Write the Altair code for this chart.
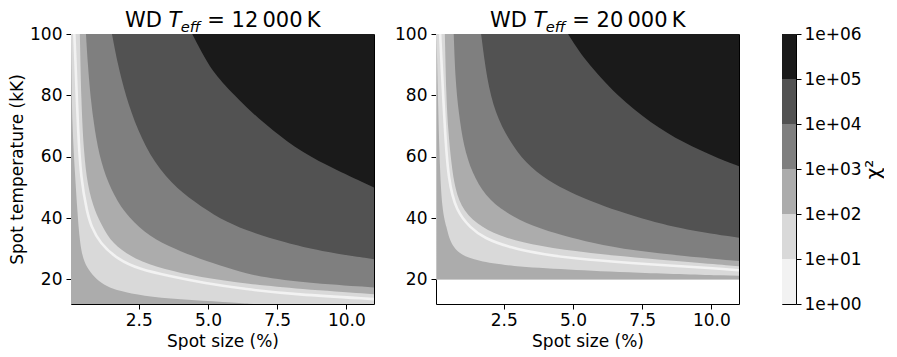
import altair as alt
import pandas as pd

# ---------------- axes / levels ----------------
X_MIN, X_MAX = 0.05, 11.0
Y_BOTTOM, Y_TOP = 12.0, 100.0
x_tick_values = [2.5, 5.0, 7.5, 10.0]
y_tick_values = [20, 40, 60, 80, 100]
colorbar_exponents = [0, 1, 2, 3, 4, 5, 6]          # chi^2 = 1e+00 ... 1e+06
band_colors = ["#f2f2f2", "#d9d9d9", "#acacac", "#7f7f7f", "#525252", "#1a1a1a"]

panel_teff = ["12\u2009000", "20\u2009000"]
grid_floor = [12.0, 20.0]   # lowest spot temperature of each model grid (kK)

# ---------------- panel 1 : WD Teff = 12 000 K ----------------
# contour boundaries: spot size (%) -> spot temperature (kK)
p1_lvl5_x = [4.43, 4.97, 5.40, 6.59, 7.31, 8.39, 9.61, 11.0]
p1_lvl5_y = [100, 90.6, 85.1, 74.3, 68.8, 61.4, 55.8, 50.0]
p1_lvl4_x = [1.53, 1.73, 2.03, 2.45, 3.05, 3.89, 4.73, 5.69, 6.60, 7.80, 9.0, 11.0]
p1_lvl4_y = [100, 90.5, 79.6, 68.8, 58.0, 49.3, 43.9, 38.5, 35.3, 32.0, 29.3, 26.6]
p1_lvl3_x = [0.59, 0.655, 0.75, 0.90, 1.13, 1.49, 1.97, 2.69, 3.53, 4.73, 5.69, 6.60, 8.40, 11.0]
p1_lvl3_y = [100, 90.5, 79.6, 68.8, 58.0, 49.3, 41.8, 35.3, 30.9, 26.6, 23.9, 21.2, 19.0, 17.4]
p1_lvl2_up_x = [0.37, 0.42, 0.51, 0.65, 0.91, 1.19, 1.52, 2.35, 3.42, 4.68, 6.48, 8.28, 11.0]
p1_lvl2_up_y = [100, 77.9, 61.7, 50.3, 42.2, 37.3, 31.9, 26.5, 23.3, 20.8, 18.5, 16.9, 15.2]
p1_valley_x = [0.17, 0.20, 0.30, 0.41, 0.63, 0.78, 1.09, 1.74, 2.53, 3.60, 4.80, 6.36, 8.16, 11.0]
p1_valley_y = [100, 94.0, 68.8, 52.6, 41.9, 37.3, 31.9, 26.5, 23.3, 21.1, 18.9, 16.8, 15.1, 13.6]
p1_lvl2_lo_x = [0.05, 0.06, 0.10, 0.19, 0.28, 0.37, 0.49, 0.67, 0.97, 1.33, 1.81, 2.64, 3.96, 5.64, 6.66]
p1_lvl2_lo_y = [100, 90.6, 68.8, 55.2, 42.2, 31.9, 26.5, 23.3, 20.0, 17.8, 16.2, 14.6, 13.5, 12.6, 12.0]

# ---------------- panel 2 : WD Teff = 20 000 K ----------------
p2_lvl5_x = [4.82, 5.41, 6.61, 7.81, 9.0, 10.2, 11.0]
p2_lvl5_y = [100, 91.6, 79.6, 71.0, 64.5, 59.6, 56.9]
p2_lvl4_x = [1.68, 1.89, 2.19, 2.67, 3.27, 4.11, 4.94, 5.66, 6.61, 7.81, 9.0, 11.0]
p2_lvl4_y = [100, 85.1, 74.2, 65.6, 58.0, 52.0, 48.3, 45.5, 42.3, 39.0, 36.3, 33.6]
p2_lvl3_x = [0.69, 0.75, 0.87, 1.05, 1.35, 1.83, 2.55, 3.51, 4.70, 5.66, 7.21, 9.0, 11.0]
p2_lvl3_y = [100, 85.1, 74.2, 63.4, 54.8, 47.2, 41.8, 37.4, 34.2, 32.0, 29.3, 27.7, 26.0]
p2_lvl2_up_x = [0.37, 0.42, 0.49, 0.60, 0.74, 1.03, 1.71, 2.54, 3.79, 5.59, 7.74, 9.54, 11.0]
p2_lvl2_up_y = [100, 79.6, 68.8, 58.0, 49.3, 42.2, 36.8, 33.5, 30.8, 28.5, 26.8, 25.4, 24.3]
p2_valley_x = [0.20, 0.25, 0.37, 0.49, 0.78, 1.30, 1.78, 2.74, 3.94, 5.37, 7.77, 10.16, 11.0]
p2_valley_y = [100, 90.5, 68.8, 52.6, 42.2, 36.8, 33.5, 30.3, 28.1, 26.5, 24.9, 23.6, 23.0]
p2_lvl2_lo_x = [0.07, 0.12, 0.18, 0.27, 0.44, 0.52, 0.70, 0.94, 1.54, 2.74, 4.77, 7.17, 11.0]
p2_lvl2_lo_y = [100, 79.6, 58.1, 42.2, 36.8, 33.5, 30.3, 28.1, 26.0, 24.3, 23.3, 22.2, 21.2]

FONT = "DejaVu Sans"
LABEL_SIZE = 17
TITLE_SIZE = 21
PANEL_W, PANEL_H = 303, 270
CURVE = "basis"

xscale = alt.Scale(domain=[X_MIN, X_MAX], nice=False, zero=False)
yscale = alt.Scale(domain=[Y_BOTTOM, Y_TOP], nice=False, zero=False)


def axes(show_ytitle):
    xaxis = alt.Axis(values=x_tick_values, format=".1f", title="Spot size (%)", grid=False,
                     domain=False, tickSize=5, labelPadding=3, titlePadding=5)
    yaxis = alt.Axis(values=y_tick_values, format="d",
                     title="Spot temperature (kK)" if show_ytitle else "",
                     grid=False, domain=False, tickSize=5, labelPadding=4, titlePadding=3)
    return xaxis, yaxis


def panel(idx, lvl2_lo, valley, lvl2_up, lvl3, lvl4, lvl5, show_ytitle):
    xaxis, yaxis = axes(show_ytitle)
    floor = grid_floor[idx]

    def enc_x():
        return alt.X("x:Q", scale=xscale, axis=xaxis)

    def enc_y():
        return alt.Y("y:Q", scale=yscale, axis=yaxis)

    base_df = pd.DataFrame({"x": [X_MIN], "x2": [X_MAX], "y": [floor], "y2": [Y_TOP]})
    layers = [
        alt.Chart(base_df).mark_rect(color=band_colors[1]).encode(
            x=enc_x(), x2="x2:Q", y=enc_y(), y2="y2:Q")
    ]

    xs, ys = lvl2_lo
    df = pd.DataFrame({"x": xs, "y": [floor] * len(xs), "y2": ys})
    layers.append(alt.Chart(df).mark_area(color=band_colors[2], clip=True, orient="vertical",
                                          interpolate=CURVE).encode(
        x=enc_x(), y=enc_y(), y2="y2:Q"))

    xs, ys = valley
    df = pd.DataFrame({"x": xs, "y": ys})
    layers.append(alt.Chart(df).mark_line(color=band_colors[0], strokeWidth=2.6, clip=True,
                                          interpolate=CURVE).encode(
        x=enc_x(), y=enc_y()))

    for (xs, ys), col in zip([lvl2_up, lvl3, lvl4, lvl5], band_colors[2:]):
        df = pd.DataFrame({"x": xs, "y": ys, "y2": [Y_TOP] * len(xs)})
        layers.append(alt.Chart(df).mark_area(color=col, clip=True, orient="vertical",
                                              interpolate=CURVE).encode(
            x=enc_x(), y=enc_y(), y2="y2:Q"))

    # title: WD T_eff = ... K
    start = PANEL_W / 2 - 97.5
    one = pd.DataFrame({"a": [0]})
    pieces = [
        ("WD", start, -7, TITLE_SIZE, "normal"),
        ("T", start + 43.6, -7, TITLE_SIZE, "italic"),
        ("eff", start + 55.8, -2.5, TITLE_SIZE * 0.7, "italic"),
        ("= " + panel_teff[idx] + "\u2009K", start + 82.3, -7, TITLE_SIZE, "normal"),
    ]
    for txt, px, py, fs, style in pieces:
        layers.append(alt.Chart(one).mark_text(text=txt, align="left", baseline="alphabetic",
                                               font=FONT, fontSize=fs, fontStyle=style,
                                               color="black").encode(
            x=alt.value(px), y=alt.value(py)))

    return alt.layer(*layers).properties(width=PANEL_W, height=PANEL_H)


p1 = panel(0, (p1_lvl2_lo_x, p1_lvl2_lo_y), (p1_valley_x, p1_valley_y),
           (p1_lvl2_up_x, p1_lvl2_up_y), (p1_lvl3_x, p1_lvl3_y),
           (p1_lvl4_x, p1_lvl4_y), (p1_lvl5_x, p1_lvl5_y), True)
p2 = panel(1, (p2_lvl2_lo_x, p2_lvl2_lo_y), (p2_valley_x, p2_valley_y),
           (p2_lvl2_up_x, p2_lvl2_up_y), (p2_lvl3_x, p2_lvl3_y),
           (p2_lvl4_x, p2_lvl4_y), (p2_lvl5_x, p2_lvl5_y), False)

# ---------------- colorbar ----------------
cb_df = pd.DataFrame({
    "lo": colorbar_exponents[:-1],
    "hi": colorbar_exponents[1:],
    "band": [str(i) for i in range(len(band_colors))],
})
colorbar = alt.Chart(cb_df).mark_rect().encode(
    y=alt.Y("lo:Q", scale=alt.Scale(domain=[colorbar_exponents[0], colorbar_exponents[-1]], nice=False),
            axis=alt.Axis(orient="right", values=colorbar_exponents, labelExpr="'1e+0' + datum.value",
                          title="\u03c7\u00b2", titleAngle=270, titlePadding=22, grid=False,
                          domain=False, tickSize=5, labelPadding=3, titleFontSize=20)),
    y2="hi:Q",
    color=alt.Color("band:N", scale=alt.Scale(domain=list(cb_df["band"]), range=band_colors), legend=None),
).properties(width=14, height=PANEL_H)

chart = alt.hconcat(
    alt.hconcat(p1, p2, spacing=19),
    colorbar,
    spacing=41,
).properties(padding={"left": 0, "top": 1, "right": 0, "bottom": 0}).configure(font=FONT).configure_view(
    stroke="black", strokeWidth=1
).configure_axis(
    labelFont=FONT, titleFont=FONT, labelFontSize=LABEL_SIZE, titleFontSize=LABEL_SIZE,
    labelColor="black", titleColor="black", tickColor="black", titleFontWeight="normal",
)

chart.save("out.html", embed_options={"renderer": "svg", "actions": False})
